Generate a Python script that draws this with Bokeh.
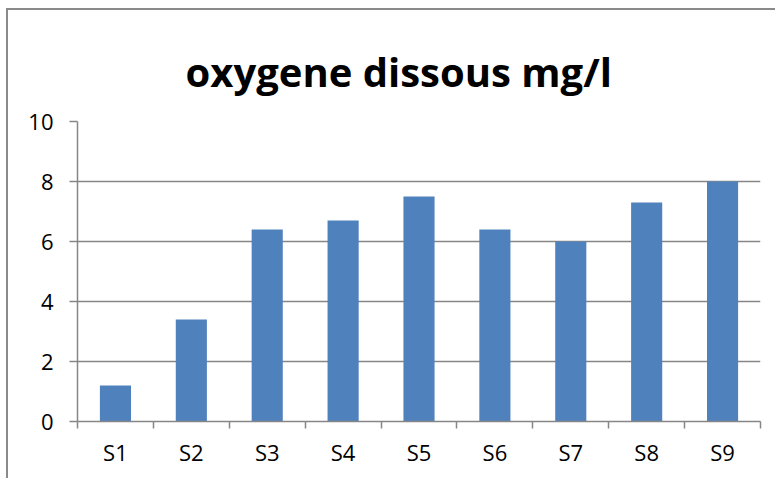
from bokeh.plotting import figure
from bokeh.models import ColumnDataSource, FixedTicker, Range1d, Title
from bokeh.embed import file_html
from bokeh.resources import INLINE

categories = ["S1", "S2", "S3", "S4", "S5", "S6", "S7", "S8", "S9"]
values = [1.2, 3.4, 6.4, 6.7, 7.5, 6.4, 6.0, 7.3, 8.0]
y_ticks = [0, 2, 4, 6, 8, 10]
title_text = "oxygene dissous mg/l"

xs = [i + 0.5 for i in range(len(categories))]
src = ColumnDataSource(dict(x=xs, top=values, cat=categories))

p = figure(width=769, height=470, output_backend="svg", toolbar_location=None,
           x_range=Range1d(0, len(categories)), y_range=Range1d(0, 10),
           min_border_left=69, min_border_right=17, min_border_top=111, min_border_bottom=59)
p.margin = (8, 0, 0, 6)
p.styles = {"border-left": "2px solid #8a8a8a", "border-top": "2px solid #8a8a8a"}
p.outline_line_color = None
p.background_fill_color = "white"
p.border_fill_color = "white"

p.title = Title(text=title_text, align="left", offset=108,
                text_font="Open Sans", text_font_size="40px", text_font_style="bold",
                text_color="black", text_line_height=1.4, standoff=46)

p.vbar(x="x", top="top", width=0.41, bottom=0, source=src,
       fill_color="#4F81BD", line_color=None)

# y axis
p.yaxis.ticker = FixedTicker(ticks=y_ticks)
p.yaxis.axis_line_color = "#868686"
p.yaxis.axis_line_width = 1.5
p.yaxis.major_tick_line_color = "#868686"
p.yaxis.major_tick_line_width = 1.5
p.yaxis.major_tick_out = 8
p.yaxis.major_tick_in = 0
p.yaxis.minor_tick_line_color = None
p.yaxis.major_label_text_font = "Open Sans"
p.yaxis.major_label_text_font_size = "22px"
p.yaxis.major_label_text_color = "black"
p.yaxis.major_label_standoff = 16

# x axis
p.xaxis.ticker = FixedTicker(ticks=xs, minor_ticks=list(range(len(categories) + 1)))
p.xaxis.major_label_overrides = {x: c for x, c in zip(xs, categories)}
p.xaxis.axis_line_color = "#868686"
p.xaxis.axis_line_width = 1.5
p.xaxis.major_tick_line_color = None
p.xaxis.minor_tick_line_color = "#868686"
p.xaxis.minor_tick_line_width = 1.5
p.xaxis.minor_tick_out = 7
p.xaxis.minor_tick_in = 0
p.xaxis.major_label_text_font = "Open Sans"
p.xaxis.major_label_text_font_size = "22px"
p.xaxis.major_label_text_color = "black"
p.xaxis.major_label_standoff = 8

p.xgrid.grid_line_color = None
p.ygrid.ticker = FixedTicker(ticks=y_ticks)
p.ygrid.grid_line_color = "#868686"
p.ygrid.grid_line_width = 1.5

open("out.html", "w").write(file_html(p, INLINE))
